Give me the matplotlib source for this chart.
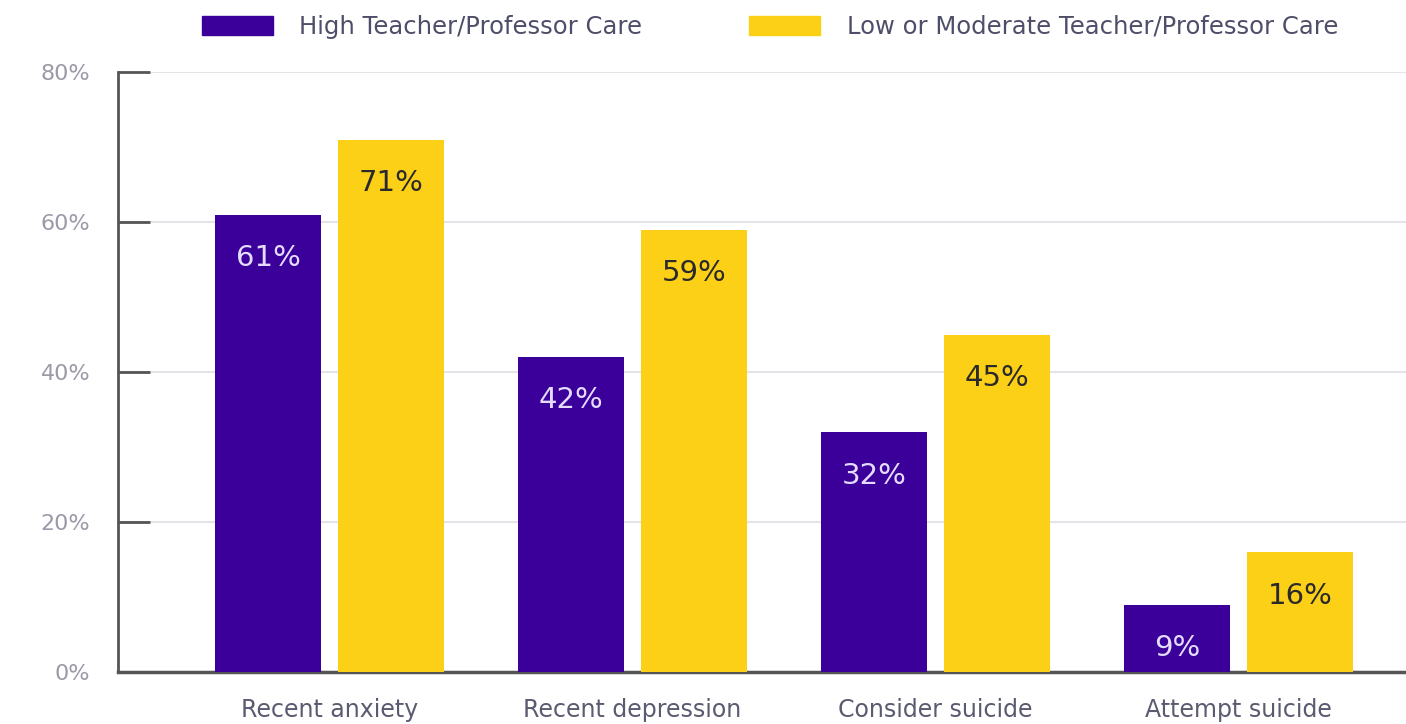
import matplotlib
matplotlib.use("Agg")
import matplotlib.pyplot as plt
import numpy as np
from matplotlib.patches import Patch

plt.rcParams['font.family'] = ['DejaVu Sans']

categories = ["Recent anxiety", "Recent depression", "Consider suicide", "Attempt suicide"]
high_care = [61, 42, 32, 9]
low_care = [71, 59, 45, 16]
series_names = ["High Teacher/Professor Care", "Low or Moderate Teacher/Professor Care"]
yticks = [0, 20, 40, 60, 80]
ytick_labels = ["0%", "20%", "40%", "60%", "80%"]

purple = "#3b0099"
yellow = "#fdd018"

fig = plt.figure(figsize=(14.06, 7.24), dpi=100)
ax = fig.add_axes([118/1406, 52/724, 1 - 118/1406, 600/724])

x = np.arange(len(categories))
w = 0.35
off = 0.203
ax.bar(x - off, high_care, w, color=purple, zorder=3)
ax.bar(x + off, low_care, w, color=yellow, zorder=3)

for xi, v in zip(x, high_care):
    ax.text(xi - off, v - 5.8, f"{v}%", ha="center", va="center", fontsize=21,
            color="#e4dcff", zorder=4)
for xi, v in zip(x, low_care):
    ax.text(xi + off, v - 5.8, f"{v}%", ha="center", va="center", fontsize=21,
            color="#2a2a2a", zorder=4)

ax.set_ylim(0, 80)
ax.set_xlim(-0.698, 3.553)
ax.set_yticks(yticks)
ax.set_yticklabels(ytick_labels)
ax.set_xticks(x)
ax.set_xticklabels(categories)

ax.grid(axis="y", color="#e3e3e8", linewidth=1.5, zorder=0)
ax.tick_params(axis="y", direction="in", length=23, width=2, color="#555555",
               labelsize=16, labelcolor="#9a9aa8", pad=20)
ax.tick_params(axis="x", length=0, labelsize=17, labelcolor="#5a5a70", pad=19)

for s in ["top", "right"]:
    ax.spines[s].set_visible(False)
ax.spines["left"].set_color("#555555")
ax.spines["left"].set_linewidth(2)
ax.spines["bottom"].set_color("#555555")
ax.spines["bottom"].set_linewidth(2.5)

handles = [Patch(color=purple), Patch(color=yellow)]
fig.legend(handles, series_names, loc="center", bbox_to_anchor=(770/1406, 1 - 27/724),
           ncol=2, frameon=False, fontsize=17.5, labelcolor="#4e4e6a",
           handlelength=2.9, handleheight=0.8, handletextpad=1.1, columnspacing=4.4)

fig.savefig("out.png", dpi=100)
